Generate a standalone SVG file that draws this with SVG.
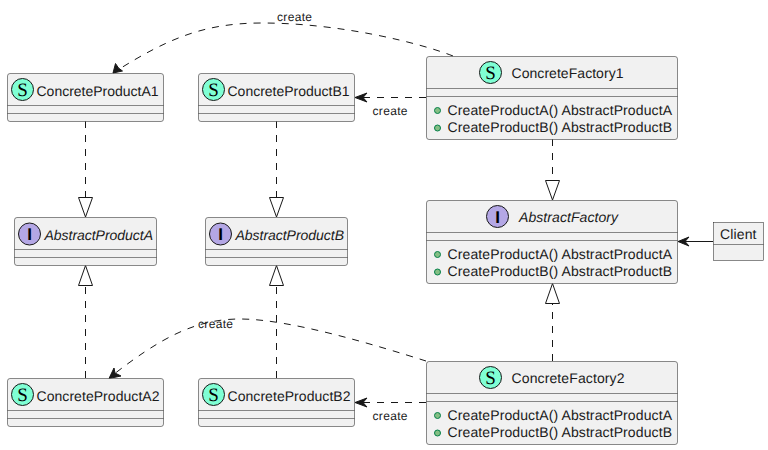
<svg xmlns="http://www.w3.org/2000/svg" width="768" height="450" viewBox="0 0 768 450">
<style>
text{font-family:"Liberation Sans",Arial,sans-serif;font-size:14px;fill:#1a1a1a;text-rendering:geometricPrecision}
.box{fill:#F1F1F1;stroke:#181818;stroke-width:.5}
.div{stroke:#181818;stroke-width:.5;fill:none}
.s{fill:#7FFFD4;stroke:#181818;stroke-width:1}
.i{fill:#B4A7E5;stroke:#181818;stroke-width:1}
.g{font-family:"Liberation Serif",serif;font-size:19px;text-anchor:middle;fill:#000}
.gi{font-family:"Liberation Sans",sans-serif;font-weight:bold;font-size:17px;text-anchor:middle;fill:#000}
.a{font-style:italic}
.m{fill:#84BE84;stroke:#038048;stroke-width:1}
.d{fill:none;stroke:#181818;stroke-width:1;stroke-dasharray:7,7}
.l{fill:none;stroke:#181818;stroke-width:1}
.h{fill:#181818;stroke:#181818;stroke-width:1}
.t{fill:none;stroke:#181818;stroke-width:1}
.lb{font-size:12px}
</style>
<g id="connectors">
<path class="d" d="M453,56 C420,43 340,23 262,23 C205,23 168,38 113,73"/>
<polygon class="h" points="113,73 115.5,63.5 118.5,68 122.5,71"/>
<text class="lb" x="277" y="21" textLength="35">create</text>
<path class="d" d="M426,97.5 L355,97.5"/>
<polygon class="h" points="355,97.5 367,93 363,97.5 367,102"/>
<text class="lb" x="372.5" y="115" textLength="35">create</text>
<path class="d" d="M85.5,121 L85.5,197"/>
<polygon class="t" points="85.5,217 78.5,197.5 92.5,197.5"/>
<path class="d" d="M276.5,121 L276.5,197"/>
<polygon class="t" points="276.5,217 269.5,197.5 283.5,197.5"/>
<path class="d" d="M552.5,139 L552.5,180"/>
<polygon class="t" points="552.5,200 545.5,180.5 559.5,180.5"/>
<path class="d" d="M85.5,378 L85.5,286"/>
<polygon class="t" points="85.5,265.5 78.5,285.5 92.5,285.5"/>
<path class="d" d="M276.5,378 L276.5,286"/>
<polygon class="t" points="276.5,265.5 269.5,285.5 283.5,285.5"/>
<path class="d" d="M552.5,361 L552.5,304"/>
<polygon class="t" points="552.5,283.5 545.5,303.5 559.5,303.5"/>
<path class="l" d="M713,241.5 L678,241.5"/>
<polygon class="h" points="678,241.5 689,237 685,241.5 689,246"/>
<path class="d" d="M426,361 C375,345 290,319 240,319 C195,319 160,338 109,378"/>
<polygon class="h" points="109,378.5 114,368 115,373 121,376"/>
<text class="lb" x="198" y="328" textLength="35">create</text>
<path class="d" d="M426,402.5 L355,402.5"/>
<polygon class="h" points="355,402.5 367,398 363,402.5 367,407"/>
<text class="lb" x="372.5" y="420" textLength="35">create</text>
</g>
<g id="ConcreteProductA1">
<rect class="box" x="7.5" y="73.5" width="156" height="48" rx="2.5"/>
<path class="div" d="M7.5,105.5H163.5M7.5,113.5H163.5"/>
<circle class="s" cx="22.5" cy="89.5" r="11"/><text class="g" x="22.5" y="96">S</text>
<text x="36.5" y="96" textLength="122">ConcreteProductA1</text>
</g>
<g id="ConcreteProductB1">
<rect class="box" x="198.5" y="73.5" width="156" height="48" rx="2.5"/>
<path class="div" d="M198.5,105.5H354.5M198.5,113.5H354.5"/>
<circle class="s" cx="213.5" cy="89.5" r="11"/><text class="g" x="213.5" y="96">S</text>
<text x="227.5" y="96" textLength="122">ConcreteProductB1</text>
</g>
<g id="ConcreteFactory1">
<rect class="box" x="426.5" y="56.5" width="251" height="83" rx="2.5"/>
<path class="div" d="M426.5,88.5H677.5M426.5,96.5H677.5"/>
<circle class="s" cx="490.5" cy="72.5" r="11"/><text class="g" x="490.5" y="79">S</text>
<text x="511.5" y="78" textLength="112">ConcreteFactory1</text>
<circle class="m" cx="437.5" cy="110.5" r="3"/><text x="447.5" y="115" textLength="224.5">CreateProductA() AbstractProductA</text>
<circle class="m" cx="437.5" cy="128" r="3"/><text x="447.5" y="132" textLength="224.5">CreateProductB() AbstractProductB</text>
</g>
<g id="AbstractProductA">
<rect class="box" x="14.5" y="217.5" width="142" height="48" rx="2.5"/>
<path class="div" d="M14.5,249.5H156.5M14.5,257.5H156.5"/>
<circle class="i" cx="29.5" cy="234" r="11"/><text class="gi" x="29.5" y="240">I</text>
<text class="a" x="44.5" y="240" textLength="108.5">AbstractProductA</text>
</g>
<g id="AbstractProductB">
<rect class="box" x="205.5" y="217.5" width="142" height="48" rx="2.5"/>
<path class="div" d="M205.5,249.5H347.5M205.5,257.5H347.5"/>
<circle class="i" cx="220.5" cy="234" r="11"/><text class="gi" x="220.5" y="240">I</text>
<text class="a" x="235.5" y="240" textLength="108.5">AbstractProductB</text>
</g>
<g id="AbstractFactory">
<rect class="box" x="426.5" y="200.5" width="251" height="83" rx="2.5"/>
<path class="div" d="M426.5,232.5H677.5M426.5,240.5H677.5"/>
<circle class="i" cx="497.5" cy="216.5" r="11"/><text class="gi" x="497.5" y="222.5">I</text>
<text class="a" x="519" y="222" textLength="99">AbstractFactory</text>
<circle class="m" cx="437.5" cy="254.5" r="3"/><text x="447.5" y="259" textLength="224.5">CreateProductA() AbstractProductA</text>
<circle class="m" cx="437.5" cy="272" r="3"/><text x="447.5" y="276" textLength="224.5">CreateProductB() AbstractProductB</text>
</g>
<g id="Client">
<rect class="box" x="713.5" y="222.5" width="50" height="38"/>
<path class="div" d="M713.5,244.5H763.5"/>
<text x="720" y="239" textLength="36.5">Client</text>
</g>
<g id="ConcreteProductA2">
<rect class="box" x="7.5" y="378.5" width="156" height="48" rx="2.5"/>
<path class="div" d="M7.5,410.5H163.5M7.5,418.5H163.5"/>
<circle class="s" cx="22.5" cy="394.5" r="11"/><text class="g" x="22.5" y="401">S</text>
<text x="36.5" y="401" textLength="123">ConcreteProductA2</text>
</g>
<g id="ConcreteProductB2">
<rect class="box" x="198.5" y="378.5" width="156" height="48" rx="2.5"/>
<path class="div" d="M198.5,410.5H354.5M198.5,418.5H354.5"/>
<circle class="s" cx="213.5" cy="394.5" r="11"/><text class="g" x="213.5" y="401">S</text>
<text x="227.5" y="401" textLength="123">ConcreteProductB2</text>
</g>
<g id="ConcreteFactory2">
<rect class="box" x="426.5" y="361.5" width="251" height="83" rx="2.5"/>
<path class="div" d="M426.5,393.5H677.5M426.5,401.5H677.5"/>
<circle class="s" cx="490.5" cy="377.5" r="11"/><text class="g" x="490.5" y="384">S</text>
<text x="511.5" y="383" textLength="113">ConcreteFactory2</text>
<circle class="m" cx="437.5" cy="415.5" r="3"/><text x="447.5" y="420" textLength="224.5">CreateProductA() AbstractProductA</text>
<circle class="m" cx="437.5" cy="433" r="3"/><text x="447.5" y="437" textLength="224.5">CreateProductB() AbstractProductB</text>
</g>
</svg>
